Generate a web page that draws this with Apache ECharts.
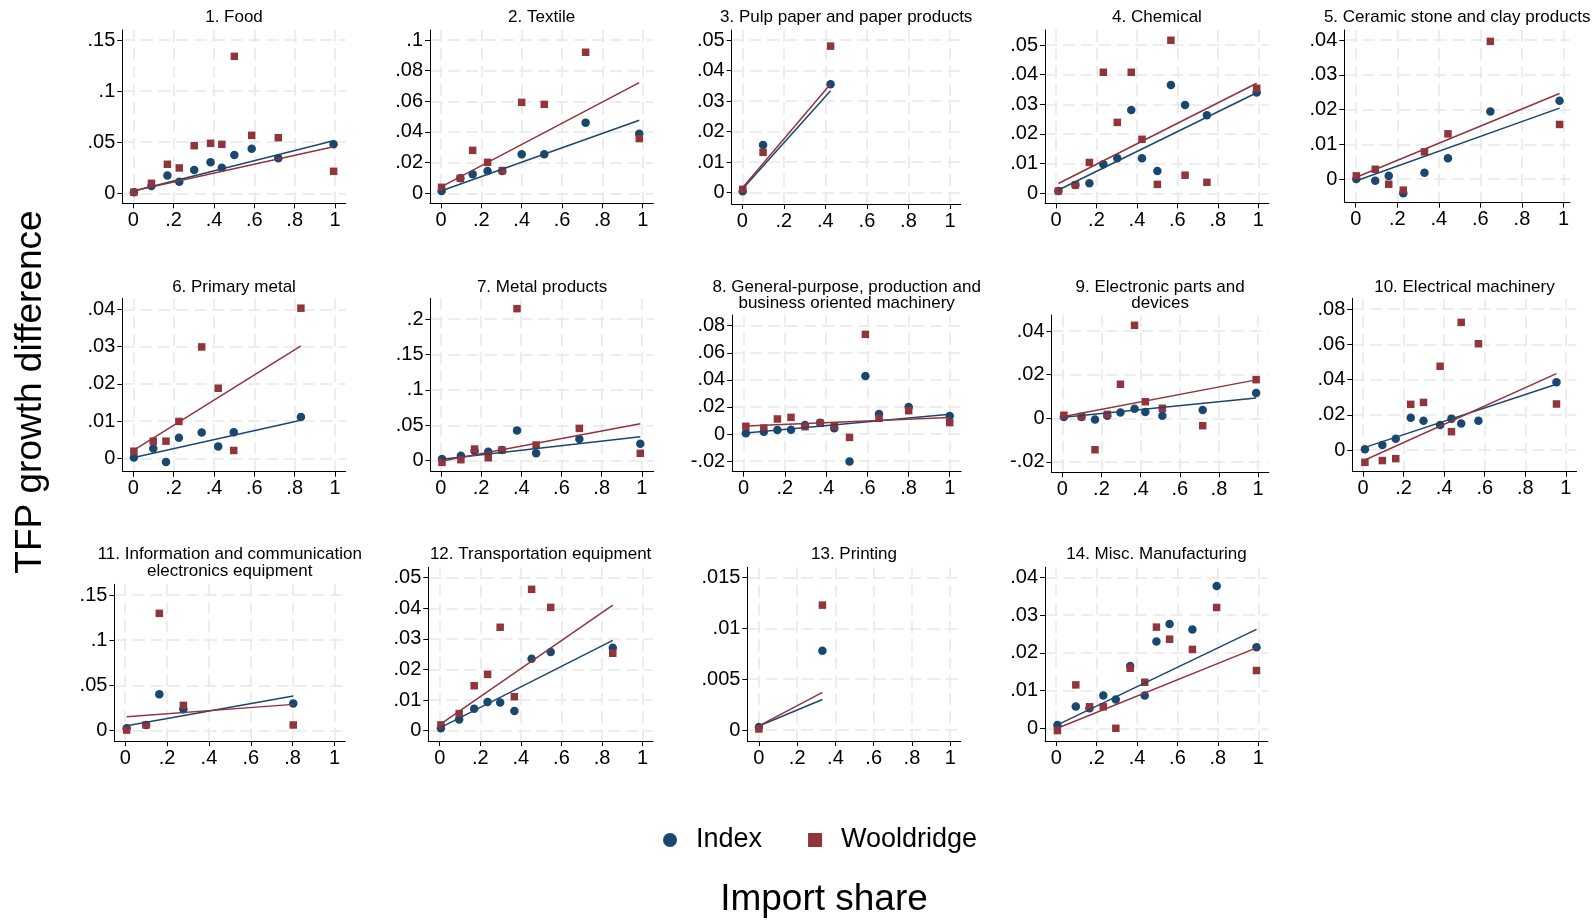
<!DOCTYPE html>
<html><head><meta charset="utf-8">
<script src="https://cdn.jsdelivr.net/npm/echarts@6/dist/echarts.min.js"></script>
<style>html,body{margin:0;padding:0;background:#fff}#c{width:1593px;height:920px}</style>
</head><body><div id="c"></div>
<script>
// ---------------- DATA ----------------
const titles = [
  "1. Food", "2. Textile", "3. Pulp paper and paper products", "4. Chemical",
  "5. Ceramic stone and clay products", "6. Primary metal", "7. Metal products",
  "8. General-purpose, production and\nbusiness oriented machinery",
  "9. Electronic parts and\ndevices", "10. Electrical machinery",
  "11. Information and communication\nelectronics equipment",
  "12. Transportation equipment", "13. Printing", "14. Misc. Manufacturing"
];
const xTicks = [0, 0.2, 0.4, 0.6, 0.8, 1];
const yTicks = [
  [0, 0.05, 0.1, 0.15],
  [0, 0.02, 0.04, 0.06, 0.08, 0.1],
  [0, 0.01, 0.02, 0.03, 0.04, 0.05],
  [0, 0.01, 0.02, 0.03, 0.04, 0.05],
  [0, 0.01, 0.02, 0.03, 0.04],
  [0, 0.01, 0.02, 0.03, 0.04],
  [0, 0.05, 0.1, 0.15, 0.2],
  [-0.02, 0, 0.02, 0.04, 0.06, 0.08],
  [-0.02, 0, 0.02, 0.04],
  [0, 0.02, 0.04, 0.06, 0.08],
  [0, 0.05, 0.1, 0.15],
  [0, 0.01, 0.02, 0.03, 0.04, 0.05],
  [0, 0.005, 0.01, 0.015],
  [0, 0.01, 0.02, 0.03, 0.04]
];
const importShare = [
  [0.003, 0.09, 0.169, 0.228, 0.302, 0.383, 0.439, 0.501, 0.587, 0.719, 0.993],
  [0.003, 0.096, 0.157, 0.231, 0.304, 0.4, 0.512, 0.717, 0.983],
  [0.002, 0.1, 0.425],
  [0.012, 0.096, 0.165, 0.234, 0.303, 0.372, 0.425, 0.501, 0.568, 0.638, 0.746, 0.992],
  [0.003, 0.094, 0.159, 0.229, 0.331, 0.444, 0.648, 0.981],
  [0.003, 0.099, 0.162, 0.226, 0.339, 0.421, 0.498, 0.831],
  [0.006, 0.1, 0.168, 0.236, 0.304, 0.379, 0.474, 0.689, 0.992],
  [0.011, 0.098, 0.164, 0.23, 0.298, 0.372, 0.44, 0.514, 0.591, 0.657, 0.801, 1.0],
  [0.008, 0.098, 0.167, 0.23, 0.297, 0.369, 0.424, 0.511, 0.717, 0.99],
  [0.009, 0.095, 0.161, 0.235, 0.298, 0.38, 0.436, 0.484, 0.569, 0.954],
  [0.007, 0.1, 0.163, 0.278, 0.803],
  [0.006, 0.096, 0.17, 0.236, 0.298, 0.368, 0.453, 0.547, 0.853],
  [0.0, 0.332],
  [0.006, 0.097, 0.165, 0.233, 0.295, 0.366, 0.438, 0.496, 0.561, 0.674, 0.794, 0.991]
];
const indexTFP = [
  [0.001, 0.0072, 0.0173, 0.0114, 0.0228, 0.0303, 0.0251, 0.0375, 0.0437, 0.0342, 0.0479],
  [0.0015, 0.0098, 0.0124, 0.0146, 0.0146, 0.0254, 0.0254, 0.0461, 0.0389],
  [0.0005, 0.0156, 0.0355],
  [0.0008, 0.0028, 0.0034, 0.0098, 0.0118, 0.0281, 0.0118, 0.0075, 0.0365, 0.0298, 0.0263, 0.034],
  [0.0, -0.0005, 0.0009, -0.0041, 0.0018, 0.006, 0.0194, 0.0225],
  [0.0002, 0.0026, -0.001, 0.0055, 0.0069, 0.0032, 0.007, 0.0111],
  [0.0024, 0.007, 0.0136, 0.0127, 0.015, 0.0428, 0.0104, 0.0306, 0.024],
  [0.0005, 0.0017, 0.003, 0.0032, 0.0066, 0.0084, 0.0042, -0.0204, 0.0428, 0.0148, 0.0199, 0.0133],
  [0.0006, 0.0006, -0.0005, 0.0012, 0.0027, 0.0044, 0.0029, 0.0012, 0.0038, 0.0116],
  [0.0004, 0.0028, 0.0064, 0.0183, 0.0166, 0.0142, 0.0178, 0.0151, 0.0166, 0.0384],
  [0.0026, 0.0063, 0.0402, 0.0236, 0.0302],
  [0.0008, 0.0037, 0.0072, 0.0094, 0.0092, 0.0064, 0.0235, 0.0257, 0.0271],
  [0.0003, 0.0078],
  [0.0009, 0.0058, 0.0053, 0.0087, 0.0076, 0.0165, 0.0087, 0.023, 0.0276, 0.0262, 0.0377, 0.0215]
];
const wooldTFP = [
  [0.001, 0.0098, 0.0284, 0.0248, 0.0466, 0.0489, 0.0479, 0.134, 0.0567, 0.0544, 0.0215],
  [0.0039, 0.0098, 0.028, 0.0202, 0.0148, 0.0593, 0.058, 0.092, 0.0357],
  [0.0011, 0.0132, 0.048],
  [0.0008, 0.0028, 0.0104, 0.0408, 0.0239, 0.0408, 0.0182, 0.003, 0.0516, 0.0061, 0.0037, 0.0354],
  [0.0009, 0.0028, -0.0015, -0.0032, 0.0078, 0.013, 0.0396, 0.0157],
  [0.0019, 0.0046, 0.0046, 0.0099, 0.0299, 0.0188, 0.0021, 0.0403],
  [-0.0024, 0.0014, 0.0165, 0.0042, 0.015, 0.2146, 0.0221, 0.0456, 0.0104],
  [0.0057, 0.0044, 0.0111, 0.0123, 0.0054, 0.0079, 0.0059, -0.0025, 0.0736, 0.0116, 0.0172, 0.0084],
  [0.0014, 0.0008, -0.0144, 0.0018, 0.0156, 0.0426, 0.0076, 0.0046, -0.0034, 0.0177],
  [-0.007, -0.006, -0.0049, 0.0259, 0.027, 0.0475, 0.0104, 0.0724, 0.0603, 0.0261],
  [0.0007, 0.0063, 0.1297, 0.028, 0.0063],
  [0.0019, 0.0056, 0.0147, 0.0184, 0.0338, 0.0111, 0.0462, 0.0403, 0.0253],
  [0.0001, 0.0123],
  [-0.0006, 0.0115, 0.0057, 0.0057, 0.0, 0.0159, 0.0122, 0.0268, 0.0236, 0.0209, 0.032, 0.0153]
];
// fitted-line endpoints [[x, y], [x, y]]
const indexFit = [
  [[0.003, 0.0023], [0.993, 0.0515]],
  [[0.003, 0.0017], [0.983, 0.0476]],
  [[0.002, 0.0013], [0.425, 0.0334]],
  [[0.012, 0.0011], [0.992, 0.0339]],
  [[0.003, -0.0005], [0.981, 0.0204]],
  [[0.003, 0.0002], [0.831, 0.0102]],
  [[0.006, 0.0019], [0.992, 0.0339]],
  [[0.011, 0.0007], [1.0, 0.0145]],
  [[0.008, 0.0005], [0.99, 0.0093]],
  [[0.009, 0.0015], [0.954, 0.0373]],
  [[0.007, 0.0055], [0.803, 0.0383]],
  [[0.006, 0.0011], [0.853, 0.0295]],
  [[0.0, 0.0004], [0.332, 0.003]],
  [[0.006, 0.0009], [0.991, 0.0262]]
];
const wooldFit = [
  [[0.003, 0.0025], [0.993, 0.0456]],
  [[0.003, 0.0043], [0.983, 0.0722]],
  [[0.002, 0.0017], [0.425, 0.0356]],
  [[0.012, 0.0033], [0.992, 0.0371]],
  [[0.003, 0.0005], [0.981, 0.0246]],
  [[0.003, 0.0022], [0.831, 0.0302]],
  [[0.006, -0.0005], [0.992, 0.0522]],
  [[0.011, 0.0059], [1.0, 0.0121]],
  [[0.008, 0.0008], [0.99, 0.0176]],
  [[0.009, -0.0057], [0.954, 0.0433]],
  [[0.007, 0.0155], [0.803, 0.0291]],
  [[0.006, 0.0022], [0.853, 0.041]],
  [[0.0, 0.0004], [0.332, 0.0037]],
  [[0.006, 0.0], [0.991, 0.0213]]
];
const seriesNames = ["Index", "Wooldridge"];
const yTitle = "TFP growth difference";
const xTitle = "Import share";

// ---------------- LAYOUT (pixels) ----------------
// [left, right, top, bottom, px of x=0, px of x=1, px of y=0, ref y value, px of ref y, title y]
const panelBox = [
  [122.3, 345.7, 30, 203.3, 133.3, 335.0, 193.3, 0.15, 40, 17.5],
  [430, 653.3, 30, 203.3, 441, 642.7, 193.3, 0.1, 40, 17.5],
  [731.7, 960.7, 30, 204, 742.3, 950, 192.7, 0.05, 40, 17.5],
  [1045, 1269, 30, 203.3, 1056, 1258.3, 193.3, 0.05, 45, 17.5],
  [1344.3, 1570, 30, 202.7, 1355.7, 1563.5, 179, 0.04, 40, 17.5],
  [122.3, 345.7, 298.3, 471.7, 133.3, 335, 458.3, 0.04, 309.3, 287],
  [430.5, 653.7, 298.3, 471.7, 440.8, 641.9, 460.7, 0.2, 319, 287],
  [732.2, 961.1, 315, 471.7, 743.6, 949.7, 434, 0.08, 325.7, 287],
  [1051.5, 1268.8, 315, 472.3, 1062.3, 1258.1, 418.3, 0.04, 331, 287],
  [1352.3, 1576.5, 298.3, 471.7, 1363.1, 1565.8, 450, 0.08, 309, 287],
  [114.4, 345.2, 584.3, 741, 125.2, 334.5, 730.7, 0.15, 595, 554.5],
  [428.3, 652.9, 567.3, 741, 439.7, 642.6, 730.7, 0.05, 577.7, 554.5],
  [747.4, 960.6, 567.3, 741, 758.9, 950.2, 730, 0.015, 577.7, 554.5],
  [1045.1, 1267.9, 567.3, 741, 1056.2, 1258.3, 728.3, 0.04, 577.3, 554.5]
];

const NAVY = '#1a476f', MAROON = '#90353b';
const FONT = "'Liberation Sans', Arial, Helvetica, sans-serif";
function fmt(v) {
  const r = Math.round(v * 100000) / 100000;
  if (r === 0) return '0';
  return String(r).replace('0.', '.');
}

const grids = [], xAxes = [], yAxes = [], series = [], graphics = [];
panelBox.forEach((b, i) => {
  const [L, R, T, B, x0, x1, y0, yv, yp, ty] = b;
  const xs = x1 - x0, ys = (y0 - yp) / yv;
  grids.push({ left: L, top: T, width: R - L, height: B - T, containLabel: false });
  const gridLine = { show: true, lineStyle: { color: '#e8e8e8', width: 1.5, type: [12, 6] } };
  xAxes.push({
    type: 'value', gridIndex: i,
    min: (L - x0) / xs, max: (R - x0) / xs,
    axisLine: { show: true, onZero: false, lineStyle: { color: '#000', width: 1 } },
    axisTick: { show: true, length: 5, customValues: xTicks, lineStyle: { color: '#000', width: 1 } },
    axisLabel: { customValues: xTicks, formatter: fmt, fontSize: 20, color: '#000', margin: 7, fontFamily: FONT },
    splitLine: gridLine
  });
  yAxes.push({
    type: 'value', gridIndex: i,
    min: (y0 - B) / ys, max: (y0 - T) / ys,
    axisLine: { show: true, onZero: false, lineStyle: { color: '#000', width: 1 } },
    axisTick: { show: true, length: 5, customValues: yTicks[i], lineStyle: { color: '#000', width: 1 } },
    axisLabel: { customValues: yTicks[i], formatter: fmt, fontSize: 20, color: '#000', margin: 7, fontFamily: FONT },
    splitLine: gridLine
  });
  const xsArr = importShare[i];
  series.push({
    type: 'scatter', name: seriesNames[0], xAxisIndex: i, yAxisIndex: i,
    symbol: 'circle', symbolSize: 8.5, itemStyle: { color: NAVY, opacity: 1 },
    data: xsArr.map((x, k) => [x, indexTFP[i][k]])
  });
  series.push({
    type: 'scatter', name: seriesNames[1], xAxisIndex: i, yAxisIndex: i,
    symbol: 'rect', symbolSize: 7.5, itemStyle: { color: MAROON, opacity: 1 },
    data: xsArr.map((x, k) => [x, wooldTFP[i][k]])
  });
  series.push({
    type: 'line', name: 'Index fit', xAxisIndex: i, yAxisIndex: i, showSymbol: false, silent: true,
    lineStyle: { color: NAVY, width: 1.5 }, data: indexFit[i]
  });
  series.push({
    type: 'line', name: 'Wooldridge fit', xAxisIndex: i, yAxisIndex: i, showSymbol: false, silent: true,
    lineStyle: { color: MAROON, width: 1.5 }, data: wooldFit[i]
  });
  graphics.push({
    type: 'text', x: (L + R) / 2, y: ty - 8.5,
    style: { text: titles[i], fontSize: 17, lineHeight: 16.8, fontFamily: FONT, fill: '#000', align: 'center', verticalAlign: 'top' }
  });
});
graphics.push({
  type: 'text', x: 31, y: 392, rotation: Math.PI / 2,
  style: { text: yTitle, fontSize: 37, fontFamily: FONT, fill: '#000', align: 'center', verticalAlign: 'middle' }
});
graphics.push({
  type: 'text', x: 824, y: 900,
  style: { text: xTitle, fontSize: 37, fontFamily: FONT, fill: '#000', align: 'center', verticalAlign: 'middle' }
});

const chart = echarts.init(document.getElementById('c'), null, { renderer: 'canvas' });
chart.setOption({
  animation: false,
  backgroundColor: '#fff',
  textStyle: { fontFamily: FONT },
  grid: grids, xAxis: xAxes, yAxis: yAxes, series: series,
  legend: {
    data: [{ name: 'Index', icon: 'circle' }, { name: 'Wooldridge', icon: 'rect' }],
    left: 663, top: 825, padding: 0, itemWidth: 14, itemHeight: 14, itemGap: 46,
    textStyle: { fontSize: 27, color: '#000', padding: [0, 0, 0, 14], lineHeight: 30, fontFamily: FONT }
  },
  graphic: graphics
});
</script></body></html>
